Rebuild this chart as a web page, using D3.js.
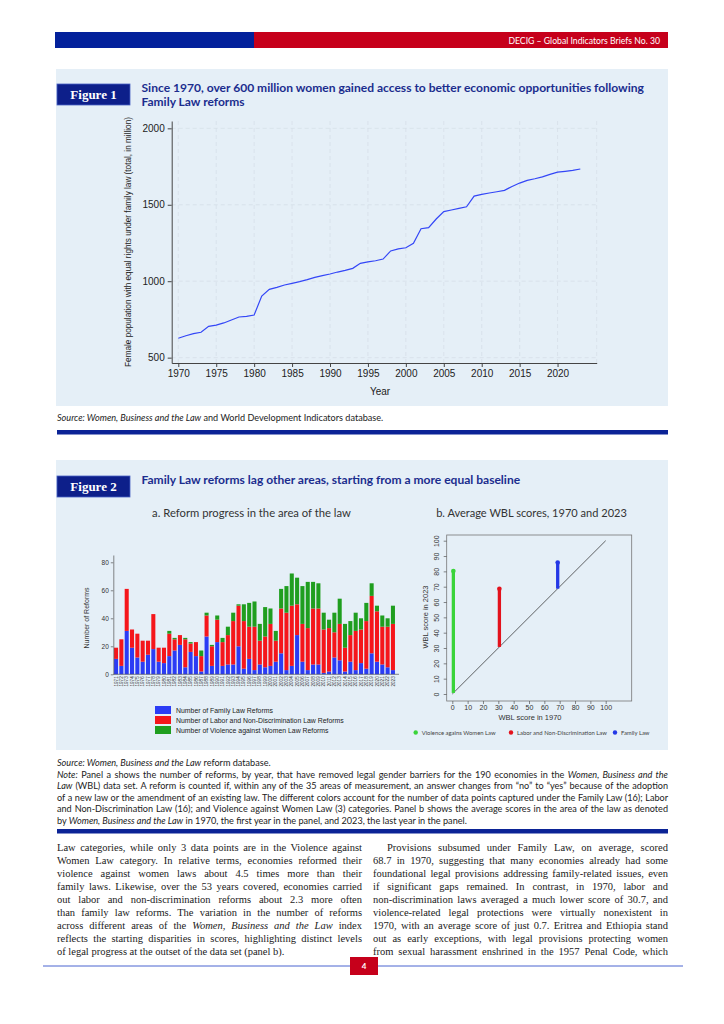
<!DOCTYPE html>
<html>
<head>
<meta charset="utf-8">
<script src="https://cdn.jsdelivr.net/npm/d3@7"></script>
<style>
  body { margin: 0; background: #fff; }
  svg { display: block; }
  text { white-space: pre; }
</style>
</head>
<body>
<div id="page"></div>
<script>
// ---- data: figure 1 (female population with equal rights, millions)
const popYears = [1970, 1971, 1972, 1973, 1974, 1975, 1976, 1977, 1978, 1979,
  1980, 1981, 1982, 1983, 1984, 1985, 1986, 1987, 1988, 1989,
  1990, 1991, 1992, 1993, 1994, 1995, 1996, 1997, 1998, 1999,
  2000, 2001, 2002, 2003, 2004, 2005, 2006, 2007, 2008, 2009,
  2010, 2011, 2012, 2013, 2014, 2015, 2016, 2017, 2018, 2019,
  2020, 2021, 2022, 2023]
const popValues = [627, 643, 657, 666, 705, 713, 727, 746, 766, 770,
  779, 903, 947, 960, 975, 986, 997, 1010, 1025, 1036,
  1047, 1060, 1071, 1084, 1117, 1126, 1134, 1145, 1198, 1211,
  1219, 1248, 1343, 1350, 1407, 1455, 1466, 1477, 1487, 1557,
  1568, 1577, 1585, 1594, 1620, 1642, 1660, 1670, 1683, 1699,
  1714, 1719, 1725, 1734]
const popYTicks = [500, 1000, 1500, 2000]
const popXTicks = [1970, 1975, 1980, 1985, 1990, 1995, 2000, 2005, 2010, 2015, 2020]

// ---- data: figure 2a (number of reforms by year)
const reformYears = [1971, 1972, 1973, 1974, 1975, 1976, 1977, 1978, 1979, 1980,
  1981, 1982, 1983, 1984, 1985, 1986, 1987, 1988, 1989, 1990,
  1991, 1992, 1993, 1994, 1995, 1996, 1997, 1998, 1999, 2000,
  2001, 2002, 2003, 2004, 2005, 2006, 2007, 2008, 2009, 2010,
  2011, 2012, 2013, 2014, 2015, 2016, 2017, 2018, 2019, 2020,
  2021, 2022, 2023]
const familyReforms = [11, 6, 31, 19, 12, 9, 14, 18, 9, 8,
  13, 17, 21, 5, 16, 13, 2, 27, 6, 23,
  6, 7, 7, 20, 4, 11, 3, 7, 5, 6,
  9, 15, 3, 6, 28, 9, 3, 7, 7, 1,
  2, 12, 10, 2, 9, 3, 8, 4, 15, 9,
  7, 5, 3]
const laborReforms = [8, 19, 30, 13, 17, 15, 10, 25, 10, 11,
  16, 8, 7, 20, 6, 10, 11, 15, 14, 16,
  17, 21, 31, 29, 34, 23, 31, 17, 22, 30,
  15, 32, 41, 43, 22, 27, 30, 40, 40, 31,
  31, 18, 26, 17, 19, 28, 24, 34, 41, 36,
  27, 29, 33]
const violenceReforms = [0, 0, 0, 0, 0, 0, 0, 0, 0, 0,
  2, 1, 0, 1, 1, 0, 4, 2, 1, 3,
  3, 6, 6, 1, 12, 17, 18, 12, 21, 11,
  7, 14, 19, 23, 19, 27, 33, 19, 18, 12,
  6, 14, 18, 17, 10, 13, 8, 13, 9, 4,
  8, 6, 13]
const reformYTicks = [0, 20, 40, 60, 80]
const reformKeys = ['family', 'labor', 'violence']
const reformLabels = ['Number of Family Law Reforms',
  'Number of Labor and Non-Discrimination Law Reforms',
  'Number of Violence against Women Law Reforms']
const reformColors = ['#2b3cf5', '#f5161b', '#1f9e1f']

// ---- data: figure 2b (average WBL scores)
const scoreAreas = ['Violence agains Women Law', 'Labor and Non-Discrimination Law', 'Family Law']
const score1970 = [0.7, 30.7, 68.7]
const score2023 = [80.2, 68.6, 85.8]
const scoreColors = ['#3ad43a', '#e3121c', '#2438e6']
const scoreTicks = [0, 10, 20, 30, 40, 50, 60, 70, 80, 90, 100]

// ---- text
const noteLines = [
  [['Source: Women, Business and the Law', 1], [' reform database.', 0]],
  [['Note:', 1], [' Panel a shows the number of reforms, by year, that have removed legal gender barriers for the 190 economies in the ', 0], ['Women, Business and the', 1]],
  [['Law', 1], [' (WBL) data set. A reform is counted if, within any of the 35 areas of measurement, an answer changes from \u201cno\u201d to \u201cyes\u201d because of the adoption', 0]],
  [['of a new law or the amendment of an existing law. The different colors account for the number of data points captured under the Family Law (16); Labor', 0]],
  [['and Non-Discrimination Law (16); and Violence against Women Law (3) categories. Panel b shows the average scores in the area of the law as denoted', 0]],
  [['by ', 0], ['Women, Business and the Law', 1], [' in 1970, the first year in the panel, and 2023, the last year in the panel.', 0]]
]
const leftColumn = [
  [['Law categories, while only 3 data points are in the Violence against', 0]],
  [['Women Law category. In relative terms, economies reformed their', 0]],
  [['violence against women laws about 4.5 times more than their', 0]],
  [['family laws. Likewise, over the 53 years covered, economies carried', 0]],
  [['out labor and non-discrimination reforms about 2.3 more often', 0]],
  [['than family law reforms. The variation in the number of reforms', 0]],
  [['across different areas of the ', 0], ['Women, Business and the Law', 1], [' index', 0]],
  [['reflects the starting disparities in scores, highlighting distinct levels', 0]],
  [['of legal progress at the outset of the data set (panel b).', 0]]
]
const rightColumn = [
  [['Provisions subsumed under Family Law, on average, scored', 0]],
  [['68.7 in 1970, suggesting that many economies already had some', 0]],
  [['foundational legal provisions addressing family-related issues, even', 0]],
  [['if significant gaps remained. In contrast, in 1970, labor and', 0]],
  [['non-discrimination laws averaged a much lower score of 30.7, and', 0]],
  [['violence-related legal protections were virtually nonexistent in', 0]],
  [['1970, with an average score of just 0.7. Eritrea and Ethiopia stand', 0]],
  [['out as early exceptions, with legal provisions protecting women', 0]],
  [['from sexual harassment enshrined in the 1957 Penal Code, which', 0]]
]

const navy = '#0b2396'
const panelBg = '#e5eff7'
const sans = '"Liberation Sans", Arial, sans-serif'
const calib = 'Lato, "Open Sans", sans-serif'
const serif = '"Liberation Serif", serif'

const svg = d3.select('#page').append('svg').attr('width', 724).attr('height', 1024)

// shrink/grow a text so it spans a given width, returns the new size
const fitWidth = (sel, w) => {
  const fs = parseFloat(sel.style('font-size'))
  const len = sel.node().getComputedTextLength()
  sel.style('font-size', (fs * w / len) + 'px')
  return fs * w / len
}

// one line of mixed roman/italic text, optionally justified
const richLine = (g, x, y, segs, font, fill, width) => {
  const t = g.append('text').attr('x', x).attr('y', y)
    .style('font', font).attr('fill', fill)
  segs.forEach(([s, it]) => t.append('tspan').text(s).style('font-style', it ? 'italic' : 'normal'))
  if (width) {
    const nat = t.node().getComputedTextLength()
    const spaces = segs.map((s) => s[0]).join('').split(' ').length - 1
    t.style('word-spacing', ((width - nat) / spaces) + 'px')
  }
  return t
}

// pick a note font size so the densest note line nearly fills the width
const probe = richLine(svg, 0, -50, noteLines[3], '8px ' + calib, '#000')
const noteSize = 8 * 604 / probe.node().getComputedTextLength()
probe.remove()
const noteFont = noteSize.toFixed(2) + 'px ' + calib

// ---- page header
svg.append('rect').attr('x', 55).attr('y', 32).attr('width', 199).attr('height', 16).attr('fill', '#03219b')
svg.append('rect').attr('x', 254).attr('y', 32).attr('width', 414).attr('height', 16).attr('fill', '#c6001b')
fitWidth(svg.append('text').attr('x', 660).attr('y', 43.5).attr('text-anchor', 'end')
  .attr('fill', '#fff').style('font', '8px ' + calib)
  .text('DECIG \u2013 Global Indicators Briefs No. 30'), 152)

// figure label box + title
const figureHead = (y, label, titles, widths) => {
  svg.append('rect').attr('x', 57).attr('y', y).attr('width', 73).attr('height', 21)
    .attr('fill', '#0d1f8a').attr('stroke', '#4a62c4').attr('stroke-width', 0.8)
  svg.append('text').attr('x', 93.5).attr('y', y + 15).attr('text-anchor', 'middle')
    .attr('fill', '#fff').style('font', 'bold 13px ' + serif).text(label)
  titles.forEach((t, i) => {
    const el = svg.append('text').attr('x', 141.5).attr('y', y + 8 + i * 14)
      .attr('fill', '#1b2d8e').style('font', 'bold 12px ' + calib).text(t)
    if (widths[i]) fitWidth(el, widths[i])
  })
}

// =========================== FIGURE 1 ===========================
svg.append('rect').attr('x', 56).attr('y', 69).attr('width', 612).attr('height', 337).attr('fill', panelBg)
figureHead(84, 'Figure 1',
  ['Since 1970, over 600 million women gained access to better economic opportunities following',
    'Family Law reforms'], [503, 0])

const x1 = d3.scaleLinear().domain([1969.13, 2025.16]).range([171.7, 596.7])
const y1 = d3.scaleLinear().domain([465, 2048]).range([363, 121])

const g1 = svg.append('g')
// dashed grid
g1.selectAll('.hgrid').data(popYTicks).join('line')
  .attr('x1', x1.range()[0]).attr('x2', x1.range()[1])
  .attr('y1', (d) => y1(d)).attr('y2', (d) => y1(d))
  .attr('stroke', '#d6dfe8').attr('stroke-width', 0.8).attr('stroke-dasharray', '4,3')
g1.selectAll('.vgrid').data(popXTicks.concat([x1.domain()[1]])).join('line')
  .attr('x1', (d) => x1(d)).attr('x2', (d) => x1(d))
  .attr('y1', y1.range()[0]).attr('y2', y1.range()[1])
  .attr('stroke', '#d6dfe8').attr('stroke-width', 0.8).attr('stroke-dasharray', '4,3')

const line1 = d3.line().x((d, i) => x1(popYears[i])).y((d) => y1(d))
g1.append('path').datum(popValues).attr('d', line1)
  .attr('fill', 'none').attr('stroke', '#3346f7').attr('stroke-width', 1.2)

const yAxis1 = g1.append('g').attr('transform', `translate(${x1.range()[0]},0)`)
  .call(d3.axisLeft(y1).tickValues(popYTicks).tickFormat(d3.format('d')).tickSize(4).tickSizeOuter(0).tickPadding(3))
const xAxis1 = g1.append('g').attr('transform', `translate(0,${y1.range()[0]})`)
  .call(d3.axisBottom(x1).tickValues(popXTicks).tickFormat(d3.format('d')).tickSize(4).tickSizeOuter(0).tickPadding(3))
;[yAxis1, xAxis1].forEach((a) => {
  a.selectAll('text').style('font', '10px ' + sans).attr('fill', '#222')
  a.selectAll('line, path').attr('stroke', '#444')
})
g1.append('text').attr('x', 380).attr('y', 395).attr('text-anchor', 'middle')
  .style('font', '10px ' + sans).attr('fill', '#222').text('Year')
fitWidth(g1.append('text').attr('transform', 'translate(131,242) rotate(-90)')
  .attr('text-anchor', 'middle').style('font', '8.5px ' + sans).attr('fill', '#222')
  .text('Female population with equal rights under family law (total, in million)'), 250)

// source + rule
richLine(svg, 57, 421, [['Source: Women, Business and the Law', 1], [' and World Development Indicators database.', 0]],
  noteFont, '#222')
svg.append('rect').attr('x', 57).attr('y', 430).attr('width', 611).attr('height', 4.5).attr('fill', navy)

// =========================== FIGURE 2 ===========================
svg.append('rect').attr('x', 56).attr('y', 460).attr('width', 612).attr('height', 290).attr('fill', panelBg)
figureHead(476, 'Figure 2', ['Family Law reforms lag other areas, starting from a more equal baseline'], [379])
fitWidth(svg.append('text').attr('x', 251.5).attr('y', 517).attr('text-anchor', 'middle')
  .style('font', '10px ' + calib).attr('fill', '#333').text('a. Reform progress in the area of the law'), 199)
fitWidth(svg.append('text').attr('x', 531.5).attr('y', 517).attr('text-anchor', 'middle')
  .style('font', '10px ' + calib).attr('fill', '#333').text('b. Average WBL scores, 1970 and 2023'), 191)

// ---- panel a: stacked bars
const reformTable = reformYears.map((yr, i) => ({
  year: yr, family: familyReforms[i], labor: laborReforms[i], violence: violenceReforms[i]
}))
const stacked = d3.stack().keys(reformKeys)(reformTable)
const xa = d3.scaleBand().domain(reformYears).range([113.5, 395.5]).paddingInner(0.24).paddingOuter(0.1)
const ya = d3.scaleLinear().domain([0, 85.2]).range([674.3, 555])
const ga = svg.append('g')
ga.selectAll('.layer').data(stacked).join('g')
  .attr('fill', (d, i) => reformColors[i])
  .selectAll('rect').data((d) => d).join('rect')
  .attr('x', (d) => xa(d.data.year))
  .attr('width', xa.bandwidth())
  .attr('y', (d) => ya(d[1]))
  .attr('height', (d) => ya(d[0]) - ya(d[1]))

const yAxisA = ga.append('g').attr('transform', `translate(113.3,0)`)
  .call(d3.axisLeft(ya).tickValues(reformYTicks).tickSize(2.5).tickSizeOuter(0).tickPadding(2))
yAxisA.selectAll('text').style('font', '6.5px ' + sans).attr('fill', '#333')
const xAxisA = ga.append('g').attr('transform', `translate(0,${ya(0)})`)
  .call(d3.axisBottom(xa).tickSize(0).tickSizeOuter(0).tickPadding(2))
xAxisA.select('.domain').attr('d', 'M113.3,0H399')
xAxisA.selectAll('text').style('font', '4.6px ' + sans).attr('fill', '#333')
  .attr('transform', 'rotate(-90)').attr('text-anchor', 'end').attr('dy', '0.35em').attr('x', -2).attr('y', 0)
;[yAxisA, xAxisA].forEach((a) => a.selectAll('line, path').attr('stroke', '#555').attr('stroke-width', 0.7))
ga.append('text').attr('transform', 'translate(89,618) rotate(-90)').attr('text-anchor', 'middle')
  .style('font', '7px ' + sans).attr('fill', '#333').text('Number of Reforms')

// legend a
const legA = ga.selectAll('.lega').data(reformLabels).join('g')
  .attr('transform', (d, i) => `translate(155,${706 + i * 10})`)
legA.append('rect').attr('width', 16).attr('height', 8).attr('fill', (d, i) => reformColors[i])
const legAText = legA.append('text').attr('x', 21).attr('y', 6.5).style('font', '6px ' + sans)
  .attr('fill', '#222').text((d) => d)
const legASize = fitWidth(legAText.filter((d, i) => i === 1), 168)
legAText.style('font-size', legASize + 'px')

// ---- panel b: change in average score, 1970 -> 2023
const xb = d3.scaleLinear().domain([0, 100]).range([452.3, 605.7])
const yb = d3.scaleLinear().domain([0, 100]).range([694, 540.7])
const gb = svg.append('g')
gb.append('rect').attr('x', 446.7).attr('y', 535).attr('width', 185).attr('height', 166)
  .attr('fill', 'none').attr('stroke', '#777').attr('stroke-width', 0.8)
gb.append('line').attr('x1', xb(0)).attr('y1', yb(0)).attr('x2', xb(100)).attr('y2', yb(100))
  .attr('stroke', '#222').attr('stroke-width', 0.7)
gb.selectAll('.seg').data(scoreAreas).join('line')
  .attr('x1', (d, i) => xb(score1970[i])).attr('x2', (d, i) => xb(score1970[i]))
  .attr('y1', (d, i) => yb(score1970[i])).attr('y2', (d, i) => yb(score2023[i]))
  .attr('stroke', (d, i) => scoreColors[i]).attr('stroke-width', 3.3)
gb.selectAll('.dot').data(scoreAreas).join('circle')
  .attr('cx', (d, i) => xb(score1970[i])).attr('cy', (d, i) => yb(score2023[i])).attr('r', 2.3)
  .attr('fill', (d, i) => scoreColors[i])

const yAxisB = gb.append('g').attr('transform', 'translate(446.7,0)')
  .call(d3.axisLeft(yb).tickValues(scoreTicks).tickSize(3).tickSizeOuter(0).tickPadding(2))
yAxisB.select('.domain').remove()
yAxisB.selectAll('text').attr('transform', 'rotate(-90)').attr('text-anchor', 'middle')
  .attr('x', 0).attr('y', -7.5).attr('dy', 0)
const xAxisB = gb.append('g').attr('transform', 'translate(0,701)')
  .call(d3.axisBottom(xb).tickValues(scoreTicks).tickSize(3).tickSizeOuter(0).tickPadding(1.5))
xAxisB.select('.domain').remove()
;[yAxisB, xAxisB].forEach((a) => {
  a.selectAll('text').style('font', '7px ' + sans).attr('fill', '#333')
  a.selectAll('line').attr('stroke', '#555').attr('stroke-width', 0.7)
})
gb.append('text').attr('x', 530).attr('y', 719.5).attr('text-anchor', 'middle')
  .style('font', '7.5px ' + sans).attr('fill', '#333').text('WBL score in 1970')
gb.append('text').attr('transform', 'translate(427.5,617) rotate(-90)').attr('text-anchor', 'middle')
  .style('font', '7.5px ' + sans).attr('fill', '#333').text('WBL score in 2023')

// legend b
const legBx = [415.7, 511, 615]
const legB = gb.selectAll('.legb').data(scoreAreas).join('g')
  .attr('transform', (d, i) => `translate(${legBx[i]},732.5)`)
legB.append('circle').attr('r', 2.2).attr('fill', (d, i) => scoreColors[i])
const legBText = legB.append('text').attr('x', 6).attr('y', 2).style('font', '5.6px ' + calib)
  .attr('fill', '#444').text((d) => d)
const legBSize = fitWidth(legBText.filter((d, i) => i === 1), 90)
legBText.style('font-size', legBSize + 'px')

// notes + rule
noteLines.forEach((segs, i) => {
  richLine(svg, 57, 766 + i * 11.5, segs, noteFont, '#222', i >= 1 && i <= 4 ? 611 : 0)
})
svg.append('rect').attr('x', 57).attr('y', 829).attr('width', 611).attr('height', 4.5).attr('fill', navy)

// =========================== BODY TEXT ===========================
leftColumn.forEach((segs, i) => {
  richLine(svg, 57, 851 + i * 13, segs, '10.5px ' + serif, '#1a1a1a', i < leftColumn.length - 1 ? 305 : 0)
})
rightColumn.forEach((segs, i) => {
  const x0 = i === 0 ? 387 : 373
  richLine(svg, x0, 851 + i * 13, segs, '10.5px ' + serif, '#1a1a1a', 668 - x0)
})

// footer
svg.append('line').attr('x1', 43).attr('x2', 683).attr('y1', 966).attr('y2', 966)
  .attr('stroke', '#4a64d0').attr('stroke-width', 1)
svg.append('rect').attr('x', 350).attr('y', 957).attr('width', 28).attr('height', 18).attr('fill', '#c6001b')
svg.append('text').attr('x', 364).attr('y', 969).attr('text-anchor', 'middle')
  .style('font', 'bold 8px ' + calib).attr('fill', '#fff').text('4')
</script>
</body>
</html>
